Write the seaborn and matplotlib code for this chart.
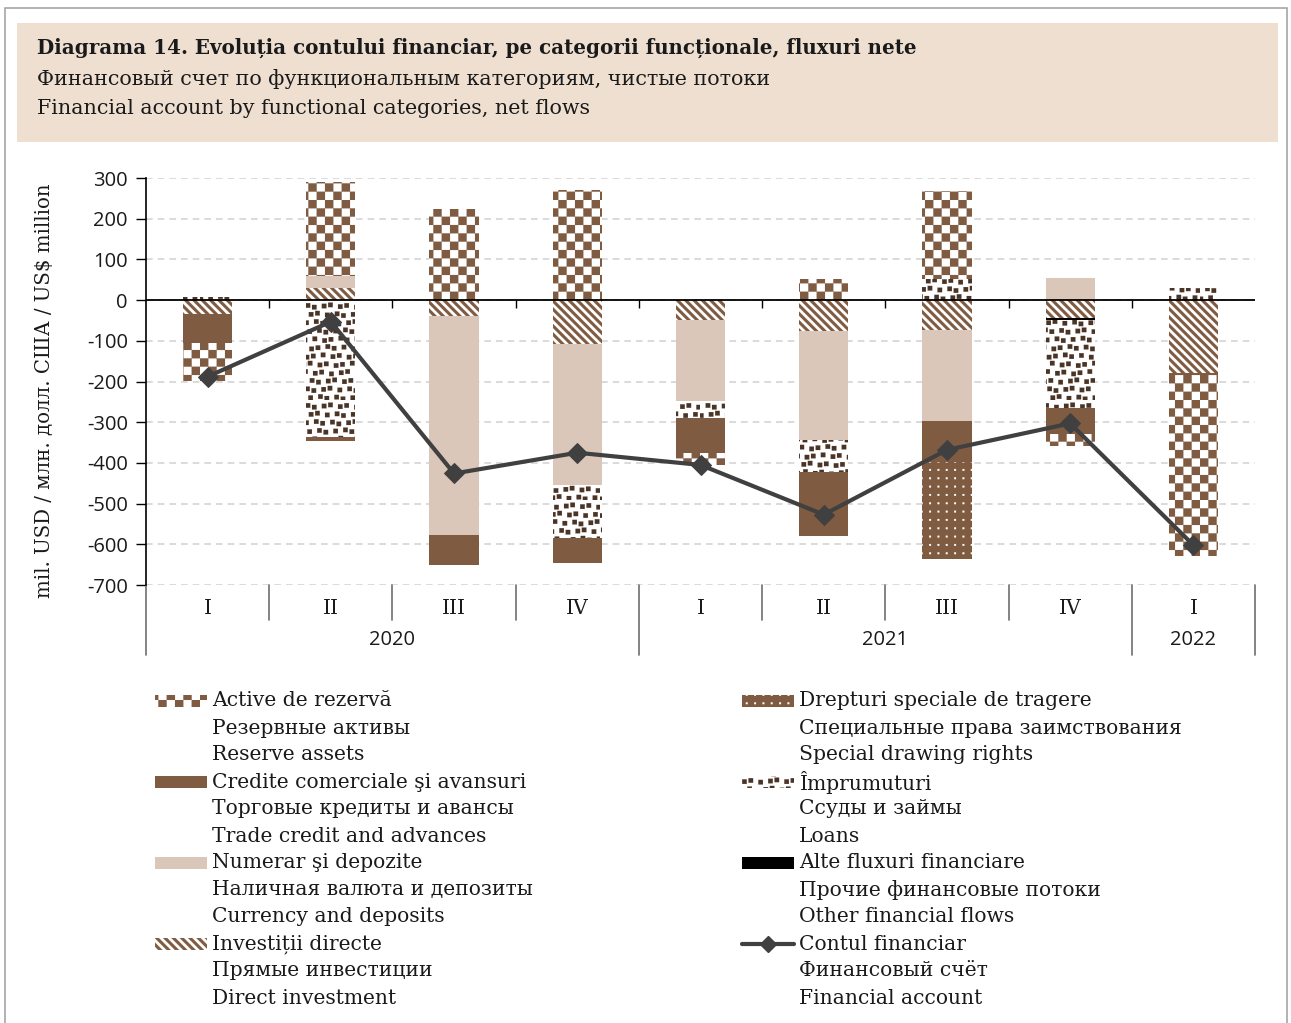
import warnings
warnings.filterwarnings("ignore")
import numpy as np
import matplotlib
matplotlib.use("Agg")
import matplotlib.pyplot as plt
import matplotlib.hatch as mhatch
import matplotlib.transforms as mtrans
from matplotlib.path import Path
from matplotlib.patches import Rectangle
from matplotlib.lines import Line2D
import seaborn as sns

# data (mil. USD)
quarters = ["I", "II", "III", "IV", "I", "II", "III", "IV", "I"]
years = ["2020", "2021", "2022"]
year_span = [(0, 3), (4, 7), (8, 8)]
direct = [-33, 29, -39, -108, -49, -76, -74, -43, -178]
currency = [0, 30, -538, -347, -198, -268, -222, 55, 0]
other = [0, 0, 0, 0, 0, 0, 0, -5, 0]
loans = [8, -336, 0, -129, -43, -78, 51, -216, 29]
trade = [-73, -9, -75, -61, -85, -158, -103, -66, -6]
sdr = [0, 0, 0, 0, 0, 0, -238, 0, 0]
reserve = [-92, 232, 225, 270, -30, 53, 217, -28, -445]
net = [-188, -53, -426, -375, -405, -527, -368, -303, -602]

BROWN = "#7f5b42"
LIGHT = "#dac7b9"
DARK = "#4a3426"
LINE = "#404040"


# custom fill patterns (checker, stripes, scattered squares, dots)
def checker(n):
    s = 1.0 / n
    return [[(j*s, i*s), ((j+1)*s, i*s), ((j+1)*s, (i+1)*s), (j*s, (i+1)*s)]
            for i in range(n) for j in range(n) if (i + j) % 2 == 0]


def stripes(n):
    s = 1.0 / n
    w = 0.5 * s
    return [[(0, c), (0, c + w), (1, c + w - 1), (1, c - 1)]
            for c in np.arange(0, 2 * n + 1) * s]


def scatter_sq(n):
    s = 1.0 / n
    a = 0.55 * s
    out = []
    for i in range(n):
        for j in range(n):
            jx = ((i * 5 + j * 3) % 7 - 3) * 0.06
            jy = ((i * 3 + j * 7) % 5 - 2) * 0.07
            x0 = (j + 0.5 * (i % 2) + jx) * s
            y0 = (i + jy) * s
            out.append([(x0, y0), (x0 + a, y0), (x0 + a, y0 + a), (x0, y0 + a)])
    return out


def dots(n):
    s = 1.0 / n
    a = 0.22 * s
    out = []
    for i in range(n):
        for j in range(n):
            x0 = (j + 0.5) * s
            y0 = (i + 0.5) * s
            out.append([(x0, y0), (x0 + a, y0), (x0 + a, y0 + a), (x0, y0 + a)])
    return out


def make_pattern(char, func):
    class Pat(mhatch.HatchPatternBase):
        def __init__(self, hatch, density):
            k = hatch.count(char) if hatch else 0
            self.polys = func(int(k * density)) if k else []
            self.num_vertices = 5 * len(self.polys)

        def set_vertices_and_codes(self, vertices, codes):
            for i, p in enumerate(self.polys):
                vertices[5*i:5*i+5] = p + [p[0]]
                codes[5*i:5*i+5] = [Path.MOVETO, Path.LINETO, Path.LINETO,
                                    Path.LINETO, Path.CLOSEPOLY]
    return Pat


mhatch._hatch_types += [make_pattern("c", checker), make_pattern("d", stripes),
                        make_pattern("q", scatter_sq), make_pattern("s", dots)]

sns.set_theme(style="white")
plt.rcParams["font.family"] = ["DejaVu Serif"]
plt.rcParams["hatch.linewidth"] = 0.1
SANS = ["Open Sans", "DejaVu Sans"]
FS = 14.6
TXT = "#1a1a1a"

# name, values, face, hatch colour, hatch
layers = [
    ("direct", direct, "white", BROWN, "dd"),
    ("currency", currency, LIGHT, LIGHT, None),
    ("other", other, "black", "black", None),
    ("loans", loans, "white", DARK, "qq"),
    ("trade", trade, BROWN, BROWN, None),
    ("sdr", sdr, BROWN, "white", "ss"),
    ("reserve", reserve, "white", BROWN, "cc"),
]

fig = plt.figure(figsize=(12.91, 10.23), dpi=100)
W, H = 1291, 1023

# page frame + header box
fig.patches.append(Rectangle((5 / W, -0.01), 1282 / W, 1 - 8 / H + 0.01,
                             transform=fig.transFigure, fill=False,
                             edgecolor="#a6a6a6", lw=1.2))
fig.patches.append(Rectangle((17 / W, 1 - 142 / H), 1261 / W, 119 / H,
                             transform=fig.transFigure, color="#eedfd1", lw=0))
fig.text(37 / W, 1 - 48 / H,
         "Diagrama 14. Evoluția contului financiar, pe categorii funcționale, fluxuri nete",
         fontsize=14.35, fontweight="bold", va="center", color=TXT)
fig.text(37 / W, 1 - 79 / H,
         "Финансовый счет по функциональным категориям, чистые потоки",
         fontsize=FS + 0.3, va="center", color=TXT)
fig.text(37 / W, 1 - 109 / H, "Financial account by functional categories, net flows",
         fontsize=FS + 0.3, va="center", color=TXT)

ax = fig.add_axes([146 / W, 1 - 585 / H, 1109 / W, 407 / H])
x = np.arange(len(quarters))

pos_base = np.zeros(len(x))
neg_base = np.zeros(len(x))
for name, vals, face, hc, hatch in layers:
    v = np.array(vals, dtype=float)
    bottom = np.where(v >= 0, pos_base, neg_base)
    ax.bar(x, v, width=0.4, bottom=bottom, color=face, edgecolor=hc,
           hatch=hatch, linewidth=0, zorder=2)
    pos_base += np.clip(v, 0, None)
    neg_base += np.clip(v, None, 0)

ax.axhline(0, color="black", lw=1.3, zorder=3)
ax.plot(x[:-1] + 0.5, np.zeros(len(x) - 1), ls="none", marker=3,
        markersize=6, mew=1, color="black", zorder=3)

sns.lineplot(x=x, y=net, ax=ax, color=LINE, lw=3, marker="D", markersize=10,
             markeredgecolor=LINE, markerfacecolor=LINE, zorder=5, legend=False)

ax.set_xlim(-0.5, len(x) - 0.5)
ax.set_ylim(-700, 300)
ax.set_yticks(range(-700, 301, 100))
ax.set_yticklabels([str(v) for v in range(-700, 301, 100)], family=SANS, fontsize=14.5)
ax.tick_params(axis="y", direction="out", length=7, width=1, pad=6, left=True,
               color="black", labelcolor=TXT)
ax.grid(axis="y", color="#d4d4d4", lw=1.2, ls=(0, (4, 3)), zorder=0)
ax.set_xticks(x)
ax.set_xticklabels(quarters, fontsize=FS, color=TXT)
ax.tick_params(axis="x", length=0, pad=10)
for side in ["top", "right", "bottom"]:
    ax.spines[side].set_visible(False)
ax.spines["left"].set_color("black")
ax.spines["left"].set_linewidth(1.2)
ax.set_xlabel("")
ax.set_ylabel("")

# category separators and year labels below the axis
tr = mtrans.blended_transform_factory(ax.transData, ax.transAxes)
group_edges = [-0.5] + [b + 0.5 for a, b in year_span]
for b in x[:-1] + 0.5:
    if b not in group_edges:
        ax.plot([b, b], [0, -0.086], transform=tr, color="#6e6e6e", lw=1.2, clip_on=False)
for b in group_edges:
    ax.plot([b, b], [0, -0.172], transform=tr, color="#6e6e6e", lw=1.2, clip_on=False)
for yr, (a, b) in zip(years, year_span):
    ax.text((a + b) / 2, -0.136, yr, transform=tr, ha="center", va="center",
            family=SANS, fontsize=14.5, color=TXT)

fig.text(45 / W, 1 - 391 / H, "mil. USD / млн. долл. США / US$ million",
         rotation=90, ha="center", va="center", fontsize=14.2, color=TXT)

# legend
entries = [
    (0, "cc", "white", BROWN, ["Active de rezervă", "Резервные активы", "Reserve assets"]),
    (0, None, BROWN, BROWN, ["Credite comerciale şi avansuri", "Торговые кредиты и авансы",
                             "Trade credit and advances"]),
    (0, None, LIGHT, LIGHT, ["Numerar şi depozite", "Наличная валюта и депозиты",
                             "Currency and deposits"]),
    (0, "dd", "white", BROWN, ["Investiții directe", "Прямые инвестиции", "Direct investment"]),
    (1, "ss", BROWN, "white", ["Drepturi speciale de tragere", "Специальные права заимствования",
                               "Special drawing rights"]),
    (1, "qq", "white", DARK, ["Împrumuturi", "Ссуды и займы", "Loans"]),
    (1, None, "black", "black", ["Alte fluxuri financiare", "Прочие финансовые потоки",
                                 "Other financial flows"]),
    (1, "line", LINE, LINE, ["Contul financiar", "Финансовый счёт", "Financial account"]),
]
col_x = [155, 742]
row = [0, 0]
for col, hatch, face, hc, lines in entries:
    y0 = 701 + row[col] * 81
    x0 = col_x[col]
    if hatch == "line":
        fig.lines.append(Line2D([x0 / W, (x0 + 52) / W], [1 - y0 / H] * 2,
                                transform=fig.transFigure, color=LINE, lw=3))
        fig.lines.append(Line2D([(x0 + 26) / W], [1 - y0 / H], transform=fig.transFigure,
                                color=LINE, marker="D", markersize=8, ls="none"))
    else:
        fig.patches.append(Rectangle((x0 / W, 1 - (y0 + 6) / H), 52 / W, 12 / H,
                                     transform=fig.transFigure, facecolor=face,
                                     edgecolor=hc, hatch=hatch, lw=0))
    for k, t in enumerate(lines):
        fig.text((x0 + 57) / W, 1 - (y0 + 27 * k) / H, t, fontsize=FS,
                 va="center", color=TXT)
    row[col] += 1

fig.savefig("out.png", dpi=100)
